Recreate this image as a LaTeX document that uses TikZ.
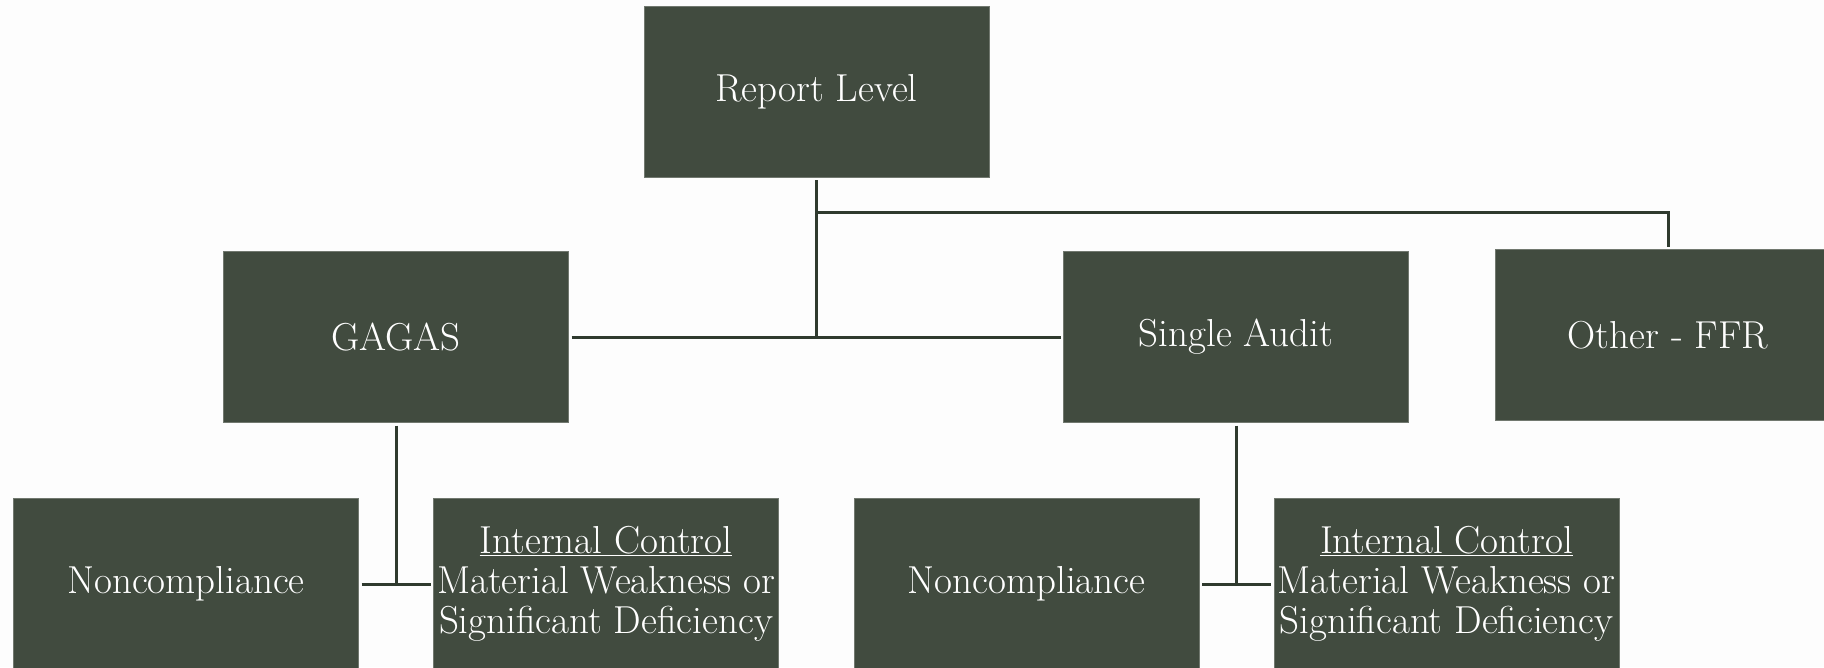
\documentclass[tikz,border=0pt]{standalone}
\definecolor{boxfill}{HTML}{414B3F}
\definecolor{linecol}{HTML}{2F3A2E}
\definecolor{bgcol}{HTML}{FDFDFD}
\begin{document}
\begin{tikzpicture}[x=1pt,y=-1pt,
  box/.style={fill=boxfill, draw=boxfill!75!white, line width=0.8pt,
    minimum width=345pt, minimum height=171pt, inner sep=0pt,
    text=white, align=center, font=\fontsize{39}{40}\selectfont, outer sep=3pt},
  conn/.style={draw=linecol, line width=3pt}]
\fill[bgcol] (0,0) rectangle (1824,667);
\useasboundingbox (0,0) rectangle (1824,667);
\clip (0,0) rectangle (1824,667);
\node[box] (rl) at (816.5,91.5) {Report Level};
\node[box] (gagas) at (396,337) {GAGAS};
\node[box] (sa) at (1236,337) {Single Audit};
\node[box] (ffr) at (1668,335) {Other - FFR};
\node[box] (nca) at (186,584) {Noncompliance};
\node[box] (ica) at (606,584) {\underline{Internal Control}\\Material Weakness or\\Significant Deficiency};
\node[box] (ncb) at (1026.5,584) {Noncompliance};
\node[box] (icb) at (1446.5,584) {\underline{Internal Control}\\Material Weakness or\\Significant Deficiency};
\coordinate (ja) at (rl.south |- gagas.east);
\coordinate (jb) at ([yshift=-32pt]rl.south);
\draw[conn] (rl.south) -- (ja);
\draw[conn] (gagas.east) -- (sa.west);
\draw[conn] (jb) -| (ffr.north);
\draw[conn] (gagas.south) -- (gagas.south |- nca.east);
\draw[conn] (nca.east) -- (ica.west);
\draw[conn] (sa.south) -- (sa.south |- ncb.east);
\draw[conn] (ncb.east) -- (icb.west);
\end{tikzpicture}
\end{document}
